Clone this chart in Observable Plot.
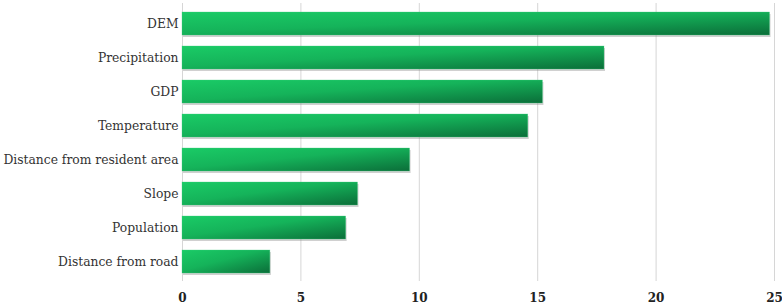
<!DOCTYPE html>
<html>
<head>
<meta charset="utf-8">
<script src="https://cdn.jsdelivr.net/npm/d3@7"></script>
<script src="https://cdn.jsdelivr.net/npm/@observablehq/plot@0.6"></script>
<style>
  html, body { margin: 0; padding: 0; background: #fff; }
  #chart svg { display: block; }
</style>
</head>
<body>
<div id="chart"></div>
<script>
const categories = ["DEM", "Precipitation", "GDP", "Temperature", "Distance from resident area", "Slope", "Population", "Distance from road"];
const values = [24.81, 17.82, 15.22, 14.6, 9.61, 7.41, 6.91, 3.71];
const xTicks = [0, 5, 10, 15, 20, 25];

const data = categories.map((c, i) => ({category: c, value: values[i]}));

const chart = Plot.plot({
  width: 782,
  height: 306,
  marginLeft: 182,
  marginRight: 8,
  marginTop: 3,
  marginBottom: 25,
  style: {background: "#fff"},
  x: {domain: [0, 25]},
  y: {domain: categories, paddingInner: 0.33, paddingOuter: 0.165},
  marks: [
    Plot.gridX(xTicks, {stroke: "#d6d6d6", strokeOpacity: 1, strokeWidth: 1}),
    Plot.axisX(xTicks, {tickSize: 0, tickPadding: 12, label: null, tickFormat: d => String(d),
      fontFamily: "DejaVu Serif", fontWeight: "bold", fontSize: 12, fill: "#222"}),
    Plot.axisY({tickSize: 0, tickPadding: 4, label: null,
      fontFamily: "DejaVu Serif Condensed", fontSize: 13.7, fill: "#333"}),
    Plot.barX(data, {x: "value", y: "category", fill: "#8a8a8a", fillOpacity: 0.4, dx: 1, dy: 2}),
    Plot.barX(data, {x: "value", y: "category", fill: "url(#barGrad)", stroke: "#3fd07f", strokeOpacity: 0.5, strokeWidth: 0.6})
  ]
});

const svg = d3.select(chart);
const defs = svg.insert("defs", ":first-child");
const g = defs.append("linearGradient").attr("id", "barGrad")
  .attr("x1", 0).attr("y1", 0).attr("x2", 1).attr("y2", 1);
g.append("stop").attr("offset", "0%").attr("stop-color", "#1acb66");
g.append("stop").attr("offset", "45%").attr("stop-color", "#15b35a");
g.append("stop").attr("offset", "100%").attr("stop-color", "#0b6e39");

document.getElementById("chart").appendChild(chart);
</script>
</body>
</html>
